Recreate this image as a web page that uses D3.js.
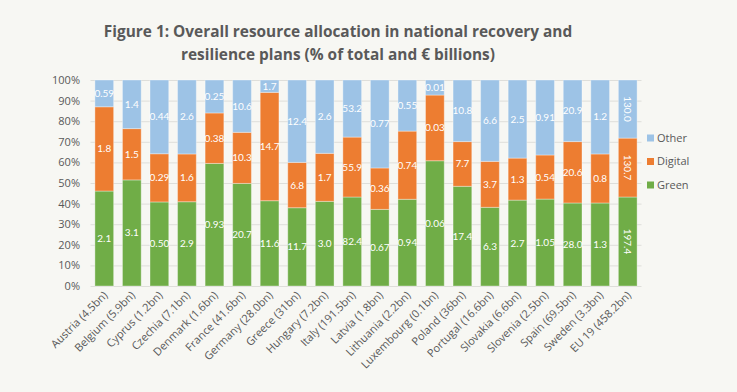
<!DOCTYPE html>
<html><head><meta charset="utf-8">
<script src="https://cdn.jsdelivr.net/npm/d3@7"></script>
<style>
html,body{margin:0;padding:0;background:#f7f7f3;}
svg{display:block;font-family:"Open Sans",Lato,sans-serif;}
</style></head>
<body>
<svg id="chart" width="737" height="392"></svg>
<script>
const categories = ["Austria (4.5bn)","Belgium (5.9bn)","Cyprus (1.2bn)","Czechia (7.1bn)","Denmark (1.6bn)","France (41.6bn)","Germany (28.0bn)","Greece (31bn)","Hungary (7.2bn)","Italy (191.5bn)","Latvia (1.8bn)","Lithuania (2.2bn)","Luxembourg (0.1bn)","Poland (36bn)","Portugal (16.6bn)","Slovakia (6.6bn)","Slovenia (2.5bn)","Spain (69.5bn)","Sweden (3.3bn)","EU 19 (458.2bn)"];
// shares in % of total
const greenPct   = [46.1,51.5,40.8,40.9,59.5,49.8,41.4,38.0,41.1,43.2,37.2,42.1,60.8,48.4,38.2,41.7,42.2,40.3,40.3,43.2];
const digitalPct = [40.9,24.9,23.4,23.2,24.5,24.8,52.6,22.0,23.3,29.1,20.1,33.1,31.9,21.7,22.3,20.4,21.4,29.8,23.8,28.6];
const otherPct   = greenPct.map((g,i)=>100-g-digitalPct[i]);
// € billion labels
const greenLbl   = ["2.1","3.1","0.50","2.9","0.93","20.7","11.6","11.7","3.0","82.4","0.67","0.94","0.06","17.4","6.3","2.7","1.05","28.0","1.3","197.4"];
const digitalLbl = ["1.8","1.5","0.29","1.6","0.38","10.3","14.7","6.8","1.7","55.9","0.36","0.74","0.03","7.7","3.7","1.3","0.54","20.6","0.8","130.7"];
const otherLbl   = ["0.59","1.4","0.44","2.6","0.25","10.6","1.7","12.4","2.6","53.2","0.77","0.55","0.01","10.8","6.6","2.5","0.91","20.9","1.2","130.0"];
const yTicks = [0,10,20,30,40,50,60,70,80,90,100];
const seriesNames = ["Green","Digital","Other"];
const colors = {Green:"#70ad47",Digital:"#ed7d31",Other:"#9dc3e6"};

const svg = d3.select("#chart");
const x = d3.scaleBand().domain(categories).range([90.5,641.5]).paddingInner(0.32).paddingOuter(0.16);
const y = d3.scaleLinear().domain([0,100]).range([286,80]);

// title
const title = svg.append("text").attr("text-anchor","middle").attr("fill","#595959")
  .attr("font-weight","bold").attr("font-size",15.4);
title.append("tspan").attr("x",338).attr("y",37).text("Figure 1: Overall resource allocation in national recovery and");
title.append("tspan").attr("x",338).attr("y",60).text("resilience plans (% of total and € billions)");

// grid
svg.append("g").selectAll("line").data(yTicks).join("line")
  .attr("x1",90.5).attr("x2",641.5).attr("y1",d=>y(d)+0.5).attr("y2",d=>y(d)+0.5)
  .attr("stroke","#dededa").attr("stroke-width",1);

// y axis
const yAxis = d3.axisLeft(y).tickValues(yTicks).tickFormat(d=>d+"%").tickSize(0).tickPadding(10);
const ya = svg.append("g").attr("transform","translate(90,0)").call(yAxis);
ya.select(".domain").remove();
ya.selectAll("text").attr("fill","#595959").attr("font-size",11).attr("font-family","'Open Sans',sans-serif");

// stacked data
const rows = categories.map((c,i)=>({cat:c,Green:greenPct[i],Digital:digitalPct[i],Other:otherPct[i],
  lbl:{Green:greenLbl[i],Digital:digitalLbl[i],Other:otherLbl[i]}}));
const stack = d3.stack().keys(seriesNames)(rows);

const g = svg.append("g");
stack.forEach(layer=>{
  const key = layer.key;
  g.append("g").selectAll("rect").data(layer).join("rect")
    .attr("x",d=>x(d.data.cat)).attr("width",x.bandwidth())
    .attr("y",d=>y(d[1])).attr("height",d=>y(d[0])-y(d[1]))
    .attr("fill",colors[key]).attr("stroke","rgba(255,255,255,0.35)").attr("stroke-width",1);
  g.append("g").selectAll("text").data(layer).join("text")
    .attr("transform",(d,i)=>{
      const cx = x(d.data.cat)+x.bandwidth()/2, cy=(y(d[0])+y(d[1]))/2;
      return i===categories.length-1 ? `translate(${cx},${cy}) rotate(90)` : `translate(${cx},${cy})`;
    })
    .attr("text-anchor","middle").attr("dy","0.35em")
    .attr("fill","#ffffff").attr("font-size",10).attr("font-family","Lato,sans-serif")
    .text(d=>d.data.lbl[key]);
});

// x labels
svg.append("g").selectAll("text").data(categories).join("text")
  .attr("transform",d=>`translate(${x(d)+x.bandwidth()/2+4},${296}) rotate(-45)`)
  .attr("text-anchor","end").attr("fill","#595959").attr("font-size",11)
  .text(d=>d);

// legend
const legendItems = ["Other","Digital","Green"];
const lg = svg.append("g").selectAll("g").data(legendItems).join("g")
  .attr("transform",(d,i)=>`translate(647,${138+i*23.5})`);
lg.append("rect").attr("x",0).attr("y",-3.5).attr("width",7).attr("height",7).attr("fill",d=>colors[d]);
lg.append("text").attr("x",10).attr("dy","0.35em").attr("fill","#595959").attr("font-size",11).text(d=>d);
</script>
</body></html>
